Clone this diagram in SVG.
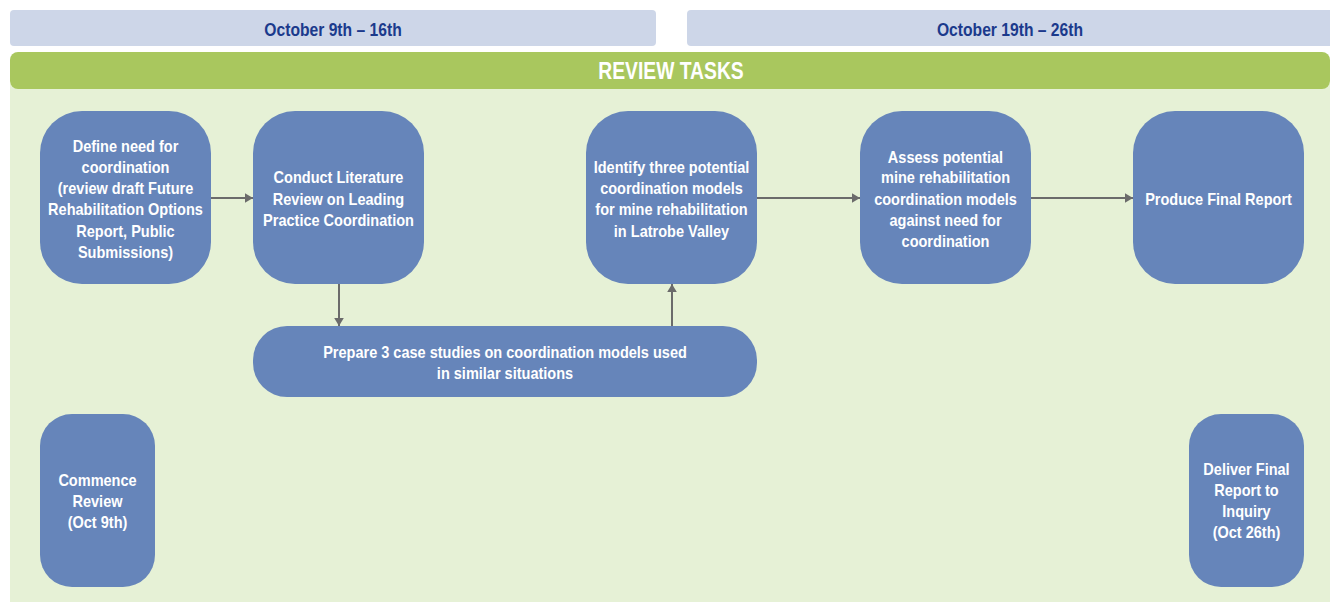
<svg xmlns="http://www.w3.org/2000/svg" width="1330" height="602" viewBox="0 0 1330 602">
<style>
.hdr{fill:#cdd6e8}
.hdrtxt{font-family:"Liberation Sans",Arial,sans-serif;font-weight:bold;font-size:18px;fill:#1b3a8c;text-anchor:middle}
.node rect{fill:#6685ba}
.node text{font-family:"Liberation Sans",Arial,sans-serif;font-weight:bold;font-size:16.5px;fill:#ffffff;text-anchor:middle}
.conn{stroke:#6b6b6b;stroke-width:2;fill:none;marker-end:url(#ah)}
</style>
<defs>
<marker id="ah" viewBox="0 0 10 12" refX="10" refY="6" markerWidth="8" markerHeight="10" markerUnits="userSpaceOnUse" orient="auto">
<path d="M0,0 L10,6 L0,12 Z" fill="#6b6b6b"/>
</marker>
</defs>
<rect width="1330" height="602" fill="#ffffff"/>
<g id="headers">
<rect class="hdr" x="10" y="10" width="646" height="36" rx="4"/>
<rect class="hdr" x="687" y="10" width="660" height="36" rx="4"/>
<text class="hdrtxt" transform="translate(333 35.5) scale(0.87 1)">October 9th – 16th</text>
<text class="hdrtxt" transform="translate(1010 35.5) scale(0.87 1)">October 19th – 26th</text>
</g>
<g id="panel">
<rect x="10" y="84" width="1320" height="518" fill="#e6f1d6"/>
<rect x="10" y="52" width="1320" height="37" rx="8" fill="#a9c75e"/>
<text transform="translate(671 78.5) scale(0.84 1)" font-family="'Liberation Sans',Arial,sans-serif" font-weight="bold" font-size="23" fill="#ffffff" text-anchor="middle">REVIEW TASKS</text>
</g>
<g id="connectors">
<line class="conn" x1="211" y1="198" x2="253" y2="198"/>
<line class="conn" x1="339" y1="284" x2="339" y2="326"/>
<line class="conn" x1="672" y1="326" x2="672" y2="284"/>
<line class="conn" x1="757" y1="198" x2="860" y2="198"/>
<line class="conn" x1="1031" y1="198" x2="1133" y2="198"/>
</g>
<g id="define" class="node">
<rect x="40" y="111" width="171" height="173" rx="42"/>
<g transform="translate(125.5 0) scale(0.88 1)">
<text x="0" y="152">Define need for</text>
<text x="0" y="173">coordination</text>
<text x="0" y="194">(review draft Future</text>
<text x="0" y="215">Rehabilitation Options</text>
<text x="0" y="237">Report, Public</text>
<text x="0" y="258">Submissions)</text>
</g>
</g>
<g id="conduct" class="node">
<rect x="253" y="111" width="171" height="173" rx="42"/>
<g transform="translate(338.5 0) scale(0.88 1)">
<text x="0" y="183">Conduct Literature</text>
<text x="0" y="205">Review on Leading</text>
<text x="0" y="226">Practice Coordination</text>
</g>
</g>
<g id="identify" class="node">
<rect x="586" y="111" width="171" height="173" rx="42"/>
<g transform="translate(671.5 0) scale(0.88 1)">
<text x="0" y="173">Identify three potential</text>
<text x="0" y="194">coordination models</text>
<text x="0" y="215">for mine rehabilitation</text>
<text x="0" y="237">in Latrobe Valley</text>
</g>
</g>
<g id="assess" class="node">
<rect x="860" y="111" width="171" height="173" rx="42"/>
<g transform="translate(945.5 0) scale(0.88 1)">
<text x="0" y="163">Assess potential</text>
<text x="0" y="183">mine rehabilitation</text>
<text x="0" y="205">coordination models</text>
<text x="0" y="226">against need for</text>
<text x="0" y="247">coordination</text>
</g>
</g>
<g id="produce" class="node">
<rect x="1133" y="111" width="171" height="173" rx="42"/>
<g transform="translate(1218.5 0) scale(0.88 1)">
<text x="0" y="205">Produce Final Report</text>
</g>
</g>
<g id="prepare" class="node">
<rect x="253" y="326" width="504" height="71" rx="34"/>
<g transform="translate(505 0) scale(0.88 1)">
<text x="0" y="358">Prepare 3 case studies on coordination models used</text>
<text x="0" y="379">in similar situations</text>
</g>
</g>
<g id="commence" class="node">
<rect x="40" y="414" width="115" height="173" rx="32"/>
<g transform="translate(97.5 0) scale(0.88 1)">
<text x="0" y="486">Commence</text>
<text x="0" y="507">Review</text>
<text x="0" y="528">(Oct 9th)</text>
</g>
</g>
<g id="deliver" class="node">
<rect x="1189" y="414" width="115" height="173" rx="32"/>
<g transform="translate(1246.5 0) scale(0.88 1)">
<text x="0" y="475">Deliver Final</text>
<text x="0" y="496">Report to</text>
<text x="0" y="517">Inquiry</text>
<text x="0" y="538">(Oct 26th)</text>
</g>
</g>
</svg>
